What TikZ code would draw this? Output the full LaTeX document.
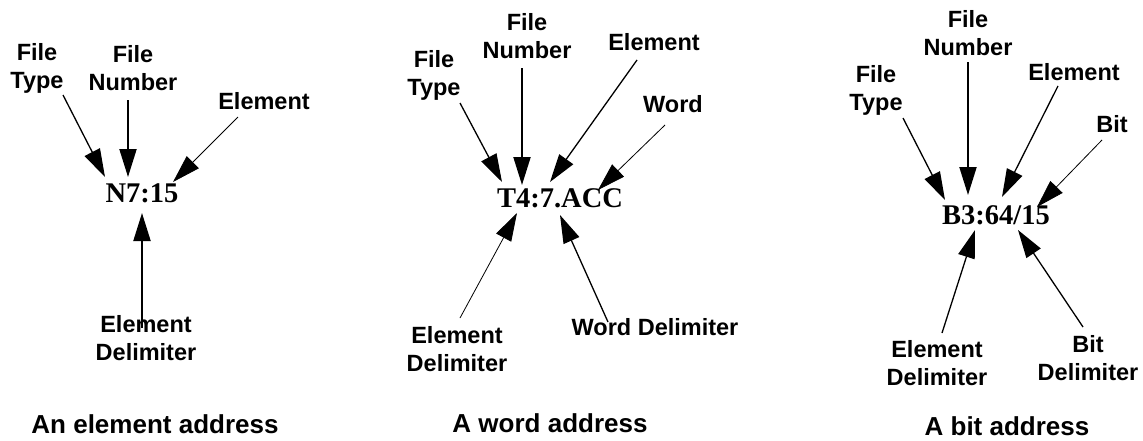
\documentclass[tikz,border=0pt]{standalone}
\usepackage{fontspec}
\setmainfont{Liberation Serif}
\setsansfont{Liberation Sans}
\usetikzlibrary{arrows.meta}
\begin{document}
\begin{tikzpicture}[x=1pt,y=-1pt,
  lbl/.style={font=\sffamily\bfseries\fontsize{23.5}{28}\selectfont, align=center, inner sep=0pt, anchor=north},
  captn/.style={font=\sffamily\bfseries\fontsize{26}{30}\selectfont, inner sep=0pt, anchor=north},
  addr/.style={font=\rmfamily\bfseries\fontsize{28.5}{32}\selectfont, inner sep=0pt, anchor=north},
  tip/.style={-{Triangle[length=28pt,width=17pt]}},
  thickarr/.style={tip, line width=2pt},
  medarr/.style={tip, line width=1.3pt},
  thinarr/.style={tip, line width=0.8pt}]
\fill[white] (0,0) rectangle (1143,440);
\useasboundingbox (0,0) rectangle (1143,440);

% ---------- Panel 1: element address ----------
\node[lbl] (ft1) at (37,43) {File\\Type};
\node[lbl] (fn1) at (133,45) {File\\Number};
\node[lbl] (el1) at (264,92) {Element};
\node[addr] (a1) at (142,183) {N7:15};
\node[lbl] (ed1) at (146,315) {Element\\Delimiter};
\node[captn] (c1) at (155,414) {An element address};
\coordinate (ft1s) at (63,95);   \coordinate (ft1t) at (105,177);
\coordinate (fn1s) at (128,100); \coordinate (fn1t) at (128,177);
\coordinate (el1s) at (238,117); \coordinate (el1t) at (173,182);
\coordinate (ed1s) at (142,328); \coordinate (ed1t) at (142,213);
\draw[medarr] (ft1s) -- (ft1t);
\draw[thickarr] (fn1s) -- (fn1t);
\draw[thinarr] (el1s) -- (el1t);
\draw[thickarr] (ed1s) -- (ed1t);

% ---------- Panel 2: word address ----------
\node[lbl] (fn2) at (527,13) {File\\Number};
\node[lbl] (ft2) at (434,50) {File\\Type};
\node[lbl] (el2) at (654,33) {Element};
\node[lbl] (wd2) at (673,95) {Word};
\node[addr] (a2) at (560,188) {T4:7.ACC};
\node[lbl] (ed2) at (457,326) {Element\\Delimiter};
\node[lbl] (wdl2) at (655,318) {Word Delimiter};
\node[captn] (c2) at (550,413) {A word address};
\coordinate (ft2s) at (460,103); \coordinate (ft2t) at (502,182);
\coordinate (fn2s) at (522,68);  \coordinate (fn2t) at (522,185);
\coordinate (el2s) at (637,60);  \coordinate (el2t) at (550,182);
\coordinate (wd2s) at (665,125); \coordinate (wd2t) at (598,190);
\coordinate (ed2s) at (460,318); \coordinate (ed2t) at (517,213);
\coordinate (wl2s) at (608,322); \coordinate (wl2t) at (560,215);
\draw[medarr] (ft2s) -- (ft2t);
\draw[thickarr] (fn2s) -- (fn2t);
\draw[medarr] (el2s) -- (el2t);
\draw[thinarr] (wd2s) -- (wd2t);
\draw[thinarr] (ed2s) -- (ed2t);
\draw[medarr] (wl2s) -- (wl2t);

% ---------- Panel 3: bit address ----------
\node[lbl] (fn3) at (968,10) {File\\Number};
\node[lbl] (ft3) at (876,65) {File\\Type};
\node[lbl] (el3) at (1074,63) {Element};
\node[lbl] (bt3) at (1112,115) {Bit};
\node[addr] (a3) at (996,205) {B3:64/15};
\node[lbl] (ed3) at (937,340) {Element\\Delimiter};
\node[lbl] (bd3) at (1088,335) {Bit\\Delimiter};
\node[captn] (c3) at (1007,416) {A bit address};
\coordinate (ft3s) at (903,118);  \coordinate (ft3t) at (945,200);
\coordinate (fn3s) at (968,62);   \coordinate (fn3t) at (968,195);
\coordinate (el3s) at (1058,86);  \coordinate (el3t) at (1002,197);
\coordinate (bt3s) at (1102,140); \coordinate (bt3t) at (1037,207);
\coordinate (ed3s) at (942,333);  \coordinate (ed3t) at (975,230);
\coordinate (bd3s) at (1083,327); \coordinate (bd3t) at (1018,230);
\draw[medarr] (ft3s) -- (ft3t);
\draw[thickarr] (fn3s) -- (fn3t);
\draw[medarr] (el3s) -- (el3t);
\draw[thinarr] (bt3s) -- (bt3t);
\draw[medarr] (ed3s) -- (ed3t);
\draw[medarr] (bd3s) -- (bd3t);
\end{tikzpicture}
\end{document}
